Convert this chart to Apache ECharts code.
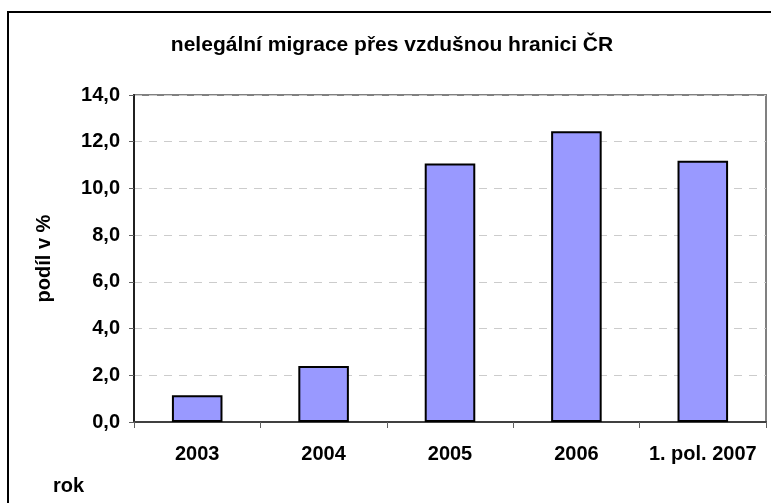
<!DOCTYPE html>
<html>
<head>
<meta charset="utf-8">
<script src="https://cdn.jsdelivr.net/npm/echarts@6/dist/echarts.min.js"></script>
<style>
  html, body { margin: 0; padding: 0; background: #fff; }
  #chart { width: 771px; height: 503px; }
</style>
</head>
<body>
<div id="chart"></div>
<script>
var categories = ["2003", "2004", "2005", "2006", "1. pol. 2007"];
var values = [1.15, 2.4, 11.07, 12.45, 11.18];
var yTicks = { min: 0, max: 14, interval: 2 };

var font = "Liberation Sans, Arial, sans-serif";
var myChart = echarts.init(document.getElementById("chart"), null, { renderer: "canvas" });

myChart.setOption({
  backgroundColor: "#fff",
  animation: false,
  title: {
    text: "nelegální migrace přes vzdušnou hranici ČR",
    left: 387,
    textAlign: "center",
    top: 30,
    textStyle: { fontFamily: font, fontSize: 21, fontWeight: "bold", color: "#000" },
  },
  grid: {
    left: 134,
    top: 95,
    right: 5,
    bottom: 81,
    show: true,
    borderColor: "#808080",
    borderWidth: 2,
    backgroundColor: "transparent",
  },
  xAxis: {
    type: "category",
    data: categories,
    axisLine: { lineStyle: { color: "#404040", width: 2 } },
    axisTick: { show: true, length: 6, lineStyle: { color: "#606060", width: 1 } },
    axisLabel: {
      interval: 0,
      hideOverlap: false,
      margin: 22,
      color: "#000",
      fontFamily: font,
      fontSize: 20,
      fontWeight: "bold",
    },
  },
  yAxis: {
    type: "value",
    min: yTicks.min,
    max: yTicks.max,
    interval: yTicks.interval,
    name: "podíl v %",
    nameLocation: "middle",
    nameGap: 80,
    nameTextStyle: { fontFamily: font, fontSize: 20, fontWeight: "bold", color: "#000" },
    axisLine: { show: true, lineStyle: { color: "#202020", width: 2 } },
    axisTick: { show: true, length: 5, inside: false, lineStyle: { color: "#606060" } },
    axisLabel: {
      margin: 14,
      color: "#000",
      fontFamily: font,
      fontSize: 20,
      fontWeight: "bold",
      formatter: function (v) {
        return v.toFixed(1).replace(".", ",");
      },
    },
    splitLine: {
      show: true,
      lineStyle: { color: "#cccccc", type: [8, 7], width: 1 },
    },
  },
  graphic: [
    {
      type: "rect",
      shape: { x: 8, y: 12, width: 900, height: 700 },
      style: { fill: "none", stroke: "#000", lineWidth: 2 },
      silent: true,
      z: 100,
    },
    {
      type: "text",
      left: 53,
      top: 476,
      style: { text: "rok", fontFamily: font, fontSize: 20, fontWeight: "bold", fill: "#000" },
    },
  ],
  series: [
    {
      type: "bar",
      data: values,
      barWidth: "40%",
      itemStyle: { color: "#9999ff", borderColor: "#000", borderWidth: 2 },
    },
  ],
});
</script>
</body>
</html>
